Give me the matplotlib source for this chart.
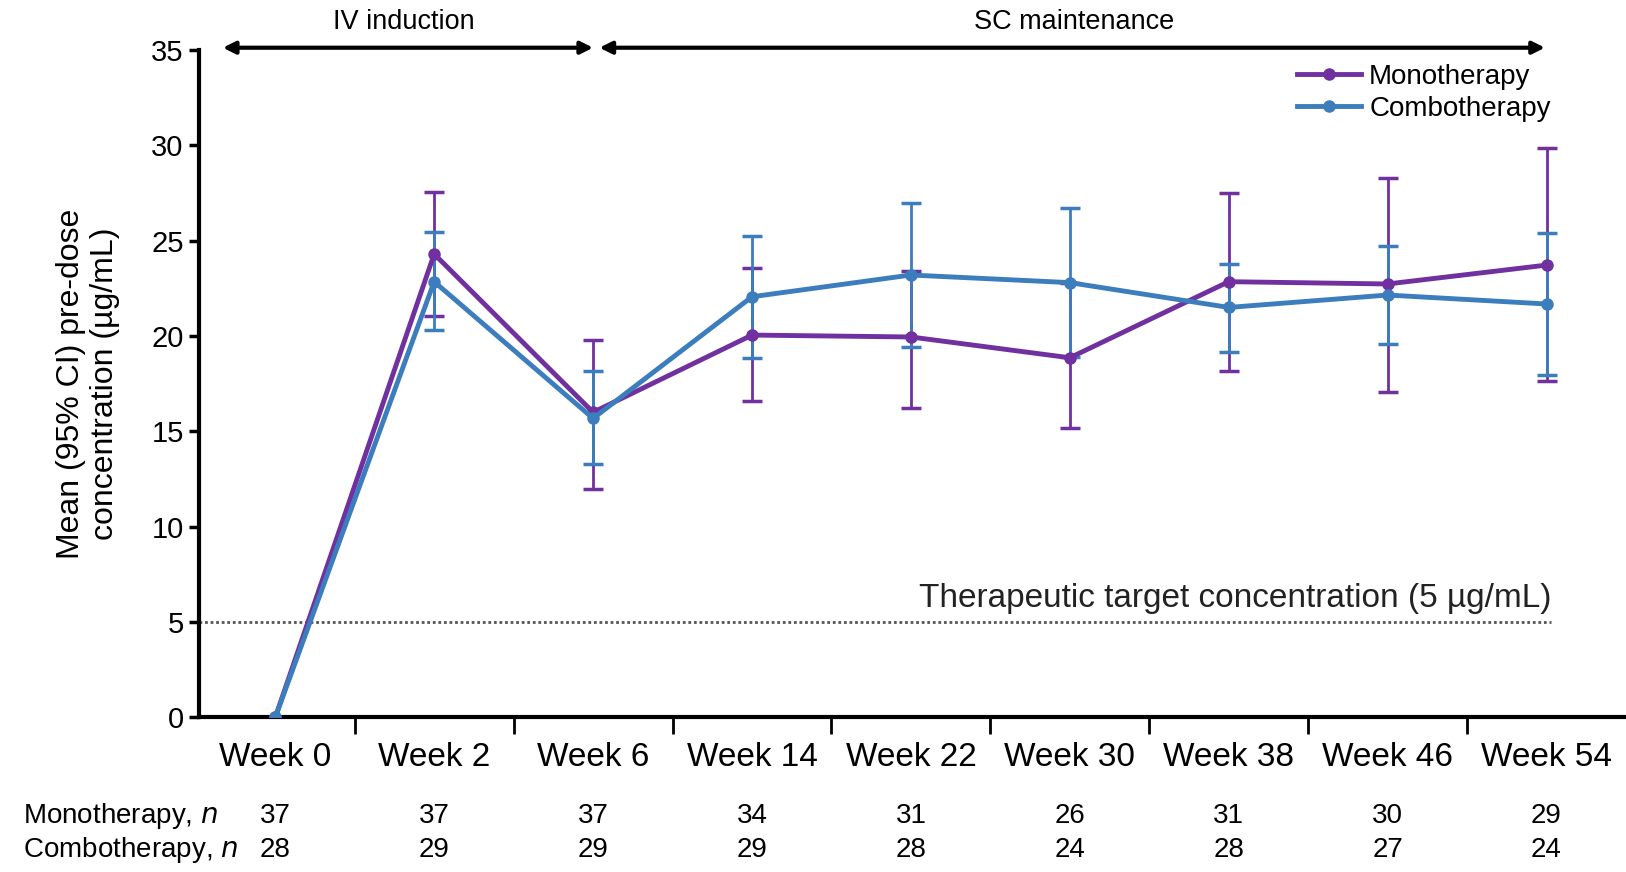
import matplotlib
matplotlib.use("Agg")
import matplotlib.pyplot as plt
import numpy as np

plt.rcParams['font.family'] = ['Liberation Sans', 'DejaVu Sans']

weeks = ["Week 0", "Week 2", "Week 6", "Week 14", "Week 22", "Week 30", "Week 38", "Week 46", "Week 54"]
mono_mean = [0, 24.3, 16.0, 20.05, 19.95, 18.86, 22.85, 22.73, 23.72]
mono_lo = [0, 21.06, 11.98, 16.61, 16.21, 15.16, 18.18, 17.05, 17.66]
mono_hi = [0, 27.57, 19.79, 23.55, 23.4, 22.8, 27.5, 28.3, 29.84]
combo_mean = [0, 22.85, 15.68, 22.06, 23.2, 22.8, 21.5, 22.15, 21.68]
combo_lo = [0, 20.3, 13.27, 18.86, 19.44, 18.9, 19.18, 19.58, 17.95]
combo_hi = [0, 25.47, 18.18, 25.23, 26.99, 26.73, 23.8, 24.72, 25.38]
mono_n = [37, 37, 37, 34, 31, 26, 31, 30, 29]
combo_n = [28, 29, 29, 29, 28, 24, 28, 27, 24]
target = 5

mono_color = '#7030A0'
combo_color = '#3C7DBD'

fig = plt.figure(figsize=(16.26, 8.72), dpi=100)
ax = fig.add_axes([199/1626, 154.6/872, 1 - 199/1626, (717.4 - 50)/872])

x = np.arange(len(weeks))

def plot_series(mean, lo, hi, color, label):
    mean = np.array(mean); lo = np.array(lo); hi = np.array(hi)
    yerr = np.vstack([mean - lo, hi - mean])
    mask = (hi - lo) > 0
    ax.errorbar(x[mask], mean[mask], yerr=yerr[:, mask], fmt='none', ecolor=color,
                elinewidth=2, capsize=7, capthick=2.5, zorder=3)
    ax.plot(x, mean, color=color, lw=3.5, marker='o', markersize=8, label=label, zorder=4)

plot_series(mono_mean, mono_lo, mono_hi, mono_color, 'Monotherapy')
plot_series(combo_mean, combo_lo, combo_hi, combo_color, 'Combotherapy')

# therapeutic target
ax.plot([-0.48, 8.03], [target, target], color='#555555', lw=2, ls=(0, (1, 1)), zorder=2)
ax.text(8.03, 6.25, 'Therapeutic target concentration (5 µg/mL)', ha='right', va='center',
        fontsize=24, color='#222222')

ax.set_xlim(-0.48, 8.5)
ax.set_ylim(0, 35)
ax.set_yticks(np.arange(0, 36, 5))
ax.tick_params(axis='y', labelsize=21, length=7, width=2.5, direction='out', pad=4)
ax.set_xticks(x)
ax.set_xticklabels(weeks, fontsize=24)
ax.tick_params(axis='x', which='major', length=0, pad=18)
ax.set_xticks(np.arange(0.5, 8, 1), minor=True)
ax.tick_params(axis='x', which='minor', length=12, width=2, direction='out')
for s in ['top', 'right']:
    ax.spines[s].set_visible(False)
for s in ['left', 'bottom']:
    ax.spines[s].set_linewidth(3)

# y label
fig.text(88/1626, 0.56, 'Mean (95% CI) pre-dose\nconcentration (µg/mL)', rotation=90,
         ha='center', va='center', fontsize=23, linespacing=1.15)

# phase arrows
arrow_y = 35.12
for x0, x1 in [(-0.33, 2.0), (2.04, 7.99)]:
    ax.annotate('', xy=(x1, arrow_y), xytext=(x0, arrow_y), annotation_clip=False,
                arrowprops=dict(arrowstyle='<|-|>', color='black', lw=3,
                                mutation_scale=18, shrinkA=0, shrinkB=0))
ax.text(0.81, 36.45, 'IV induction', ha='center', va='center', fontsize=19.5, clip_on=False)
ax.text(5.03, 36.45, 'SC maintenance', ha='center', va='center', fontsize=19.5, clip_on=False)

# legend
ax.legend(loc='upper left', bbox_to_anchor=(1297/1626, 1 - 64/872), bbox_transform=fig.transFigure,
          frameon=False, fontsize=20, handlelength=2.3, handletextpad=0.3, labelspacing=0.2,
          borderpad=0, borderaxespad=0)

# n table
trans = matplotlib.transforms.blended_transform_factory(ax.transData, fig.transFigure)
row_y = [1 - 816/872, 1 - 850/872]
fig.text(23/1626, row_y[0], 'Monotherapy, $\\it{n}$', ha='left', va='center', fontsize=20)
fig.text(23/1626, row_y[1], 'Combotherapy, $\\it{n}$', ha='left', va='center', fontsize=20)
for i in range(len(weeks)):
    ax.text(x[i], row_y[0], str(mono_n[i]), transform=trans, ha='center', va='center', fontsize=20)
    ax.text(x[i], row_y[1], str(combo_n[i]), transform=trans, ha='center', va='center', fontsize=20)

fig.savefig('out.png', dpi=100)
